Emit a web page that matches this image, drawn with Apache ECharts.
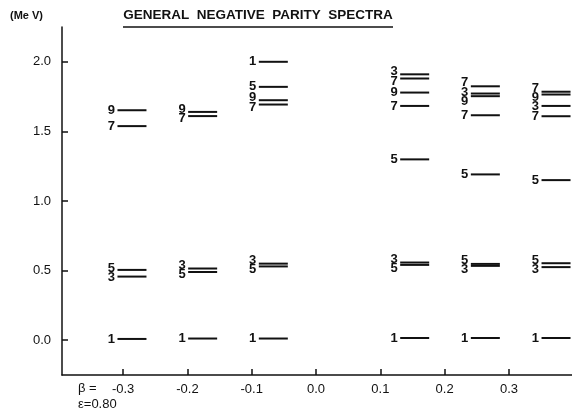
<!DOCTYPE html>
<html>
<head>
<meta charset="utf-8">
<script src="https://cdn.jsdelivr.net/npm/echarts@6/dist/echarts.min.js"></script>
<style>
  html, body { margin: 0; padding: 0; background: #fff; }
  #chart { width: 572px; height: 410px; }
</style>
</head>
<body>
<div id="chart"></div>
<script>
// beta ticks on the axis
var betaTicks = [-0.3, -0.2, -0.1, 0.0, 0.1, 0.2, 0.3];
var energyTicks = [0.0, 0.5, 1.0, 1.5, 2.0];

// level columns (beta), and levels as [energy MeV, spin label]
var columns = [-0.3, -0.2, -0.1, 0.1, 0.2, 0.3];
var levelsM03 = [[0.009, '1'], [0.457, '3'], [0.505, '5'], [1.538, '7'], [1.652, '9']];
var levelsM02 = [[0.012, '1'], [0.49, '5'], [0.515, '3'], [1.61, '7'], [1.64, '9']];
var levelsM01 = [[0.012, '1'], [0.53, '5'], [0.55, '3'], [1.693, '7'], [1.724, '9'], [1.82, '5'], [2.0, '1']];
var levelsP01 = [[0.016, '1'], [0.541, '5'], [0.558, '3'], [1.299, '5'], [1.683, '7'], [1.779, '9'], [1.88, '7'], [1.91, '3']];
var levelsP02 = [[0.016, '1'], [0.534, '3'], [0.548, '5'], [1.191, '5'], [1.616, '7'], [1.753, '9'], [1.772, '3'], [1.824, '7']];
var levelsP03 = [[0.016, '1'], [0.525, '3'], [0.553, '5'], [1.15, '5'], [1.609, '7'], [1.683, '3'], [1.765, '9'], [1.785, '7']];
var allLevels = [levelsM03, levelsM02, levelsM01, levelsP01, levelsP02, levelsP03];

// spread labels of close levels apart (in MeV)
var LABEL_GAP = 0.066;
var items = [];
allLevels.forEach(function (lv, ci) {
  var sorted = lv.slice().sort(function (a, b) { return a[0] - b[0]; });
  var lab = sorted.map(function (d) { return d[0]; });
  for (var k = 0; k < 40; k++) {
    for (var i = 1; i < lab.length; i++) {
      var d = lab[i] - lab[i - 1];
      if (d < LABEL_GAP) {
        var p = (LABEL_GAP - d) / 2;
        lab[i] += p; lab[i - 1] -= p;
      }
    }
  }
  sorted.forEach(function (d, i) {
    items.push({ beta: columns[ci], e: d[0], labE: lab[i], spin: d[1] });
  });
});

var chart = echarts.init(document.getElementById('chart'));
var ink = '#111';
var option = {
  backgroundColor: '#fff',
  animation: false,
  grid: { left: 62, right: 0, top: 27, bottom: 35 },
  xAxis: [{
    type: 'value', min: -0.395, max: 0.398,
    axisLine: { show: true, onZero: false, lineStyle: { color: ink, width: 1.5 } },
    axisTick: { show: true, inside: true, length: 6, customValues: betaTicks, lineStyle: { color: ink, width: 1.5 } },
    axisLabel: { customValues: betaTicks, color: ink, fontSize: 13, fontFamily: 'Liberation Sans', margin: 8,
      formatter: function (v) { return v.toFixed(1); } },
    splitLine: { show: false }
  }, {
    // hidden scale for where the level columns were drawn
    type: 'value', min: -0.399, max: 0.3226, show: false
  }],
  yAxis: {
    type: 'value', min: -0.25, max: 2.25,
    axisLine: { show: true, onZero: false, lineStyle: { color: ink, width: 1.5 } },
    axisTick: { show: true, inside: true, length: 6, customValues: energyTicks, lineStyle: { color: ink, width: 1.5 } },
    axisLabel: { customValues: energyTicks, color: ink, fontSize: 13, fontFamily: 'Liberation Sans', margin: 11,
      formatter: function (v) { return v.toFixed(1); } },
    splitLine: { show: false }
  },
  graphic: [
    { type: 'text', x: 258, y: 15, style: { text: 'GENERAL  NEGATIVE  PARITY  SPECTRA', align: 'center', verticalAlign: 'middle',
      font: 'bold 13.5px "Liberation Sans"', fill: ink } },
    { type: 'line', shape: { x1: 123, y1: 27, x2: 393, y2: 27 }, style: { stroke: ink, lineWidth: 1.5 } },
    { type: 'text', x: 10, y: 16, style: { text: '(Me V)', verticalAlign: 'middle', font: 'bold 11px "Liberation Sans"', fill: ink } },
    { type: 'text', x: 78, y: 388, style: { text: 'β =', verticalAlign: 'middle', font: '13px "Liberation Sans"', fill: ink } },
    { type: 'text', x: 78, y: 404, style: { text: 'ε=0.80', verticalAlign: 'middle', font: '13px "Liberation Sans"', fill: ink } }
  ],
  series: [{
    type: 'custom',
    xAxisIndex: 1,
    clip: false,
    data: items.map(function (it) { return [it.beta, it.e, it.labE]; }),
    renderItem: function (params, api) {
      var p = api.coord([api.value(0), api.value(1)]);
      var pl = api.coord([api.value(0), api.value(2)]);
      var it = items[params.dataIndex];
      return {
        type: 'group',
        children: [{
          type: 'line',
          shape: { x1: p[0] - 14.5, y1: p[1], x2: p[0] + 14.5, y2: p[1] },
          style: { stroke: ink, lineWidth: 2 }
        }, {
          type: 'text',
          style: { text: it.spin, x: p[0] - 17, y: pl[1], align: 'right', verticalAlign: 'middle',
            font: 'bold 13px "Liberation Sans"', fill: ink }
        }]
      };
    }
  }]
};
chart.setOption(option);
</script>
</body>
</html>
